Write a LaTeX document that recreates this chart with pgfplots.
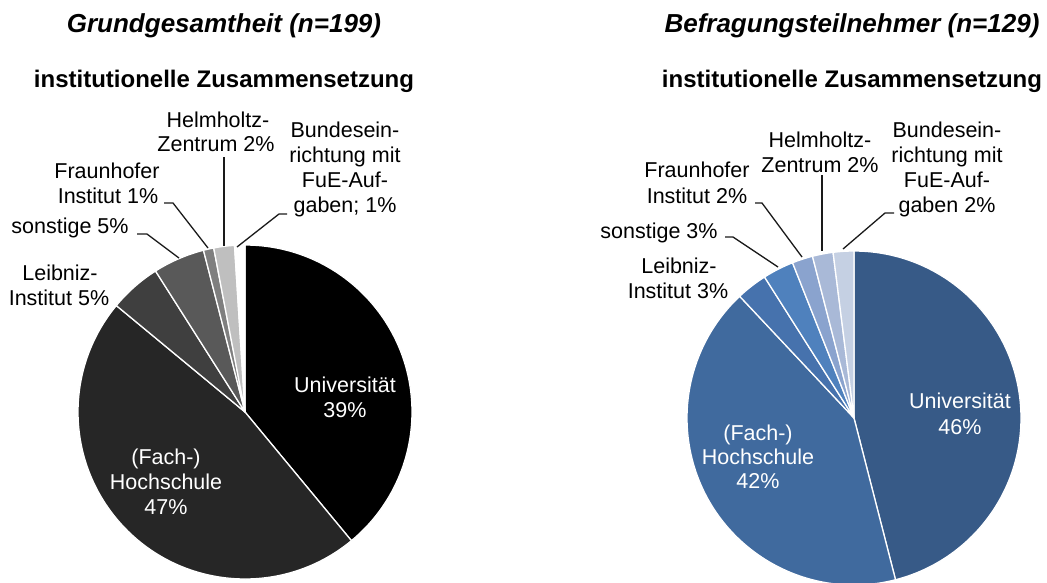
\documentclass[border=0pt]{standalone}
\usepackage{fontspec}
\setmainfont{Liberation Sans}
\usepackage{pgfplots}
\pgfplotsset{compat=1.18}
\definecolor{uniL}{HTML}{000000}
\definecolor{hsL}{HTML}{262626}
\definecolor{leiL}{HTML}{3F3F3F}
\definecolor{sonL}{HTML}{595959}
\definecolor{frL}{HTML}{7F7F7F}
\definecolor{heL}{HTML}{BFBFBF}
\definecolor{buL}{HTML}{FFFFFF}
\definecolor{uniR}{HTML}{375A87}
\definecolor{hsR}{HTML}{406A9E}
\definecolor{leiR}{HTML}{4672AD}
\definecolor{sonR}{HTML}{4F81BD}
\definecolor{frR}{HTML}{8AA3CE}
\definecolor{heR}{HTML}{A9B9D7}
\definecolor{buR}{HTML}{C5D0E3}
\definecolor{leader}{HTML}{1A1A1A}
\newcommand\lf{\fontsize{21.5bp}{25bp}\selectfont}
\newcommand\tl[4][black]{\node[anchor=base,inner sep=0pt,font=\lf,text=#1] at (axis cs:#2,#3) {#4};}
% pie: center x, center y, radius, list of percent/colour
\newcommand\pieslices[4]{%
  \xdef\curang{90}%
  \foreach \p/\c in {#4}{%
    \pgfmathsetmacro\b{\curang-3.6*\p}%
    \edef\temp{\noexpand\fill[\c,draw=white,line width=1.3bp,line join=round] (axis cs:#1,#2) -- ++(\curang:#3bp) arc[start angle=\curang,end angle=\b,radius=#3bp] -- cycle;}%
    \temp
    \xdef\curang{\b}%
  }%
}
\begin{document}
\begin{tikzpicture}
\useasboundingbox (0,0) rectangle (1047bp,583bp);
\begin{axis}[at={(0,0)},anchor=south west,width=1047bp,height=583bp,scale only axis,
  xmin=0,xmax=1047,ymin=0,ymax=583,y dir=reverse,hide axis,clip=false]
% Grundgesamtheit (n=199): Universitaet, (Fach-)Hochschule, Leibniz, sonstige, Fraunhofer, Helmholtz, Bund
\pieslices{245}{412}{167}{39/uniL,47/hsL,5/leiL,5/sonL,1/frL,2/heL,1/buL}
% Befragungsteilnehmer (n=129)
\pieslices{854}{418}{167}{46/uniR,42/hsR,3/leiR,3/sonR,2/frR,2/heR,2/buR}

% titles
\node[anchor=base,inner sep=0pt,font=\fontsize{26bp}{30bp}\selectfont\bfseries\itshape] at (axis cs:224,33) {Grundgesamtheit (n=199)};
\node[anchor=base,inner sep=0pt,font=\fontsize{24bp}{28bp}\selectfont\bfseries] at (axis cs:224,87) {institutionelle Zusammensetzung};
\node[anchor=base,inner sep=0pt,font=\fontsize{26bp}{30bp}\selectfont\bfseries\itshape] at (axis cs:852,33) {Befragungsteilnehmer (n=129)};
\node[anchor=base,inner sep=0pt,font=\fontsize{24bp}{28bp}\selectfont\bfseries] at (axis cs:852,87) {institutionelle Zusammensetzung};

% leader lines left
\draw[leader,line width=1.3bp] (axis cs:224,157) -- (axis cs:224,246);
\draw[leader,line width=1.3bp] (axis cs:287,214) -- (axis cs:279,214) -- (axis cs:237,247);
\draw[leader,line width=1.3bp] (axis cs:164,203) -- (axis cs:173,203) -- (axis cs:208,248);
\draw[leader,line width=1.3bp] (axis cs:137,234) -- (axis cs:147,234) -- (axis cs:179,258);
% leader lines right
\draw[leader,line width=1.3bp] (axis cs:822,175) -- (axis cs:822,251);
\draw[leader,line width=1.3bp] (axis cs:894,213) -- (axis cs:885,213) -- (axis cs:843,249);
\draw[leader,line width=1.3bp] (axis cs:755,203) -- (axis cs:762,203) -- (axis cs:802,257);
\draw[leader,line width=1.3bp] (axis cs:725,237) -- (axis cs:733,237) -- (axis cs:778,267);

% labels left
\tl{218}{127}{Helmholtz-}
\tl{216}{151}{Zentrum 2\%}
\tl{345}{137}{Bundesein-}
\tl{345}{162}{richtung mit}
\tl{345}{187}{FuE-Auf-}
\tl{345}{212}{gaben; 1\%}
\tl{107}{178}{Fraunhofer}
\tl{108}{203}{Institut 1\%}
\tl{70}{233}{sonstige 5\%}
\tl{60}{280}{Leibniz-}
\tl{59}{305}{Institut 5\%}
\tl[white]{345}{392}{Universität}
\tl[white]{345}{417}{39\%}
\tl[white]{166}{464}{(Fach-)}
\tl[white]{166}{489}{Hochschule}
\tl[white]{166}{514}{47\%}
% labels right
\tl{820}{147}{Helmholtz-}
\tl{820}{172}{Zentrum 2\%}
\tl{947}{137}{Bundesein-}
\tl{947}{162}{richtung mit}
\tl{947}{187}{FuE-Auf-}
\tl{947}{212}{gaben 2\%}
\tl{697}{177}{Fraunhofer}
\tl{697}{203}{Institut 2\%}
\tl{659}{238}{sonstige 3\%}
\tl{679}{273}{Leibniz-}
\tl{678}{298}{Institut 3\%}
\tl[white]{960}{408}{Universität}
\tl[white]{960}{434}{46\%}
\tl[white]{758}{440}{(Fach-)}
\tl[white]{758}{464}{Hochschule}
\tl[white]{758}{488}{42\%}
\end{axis}
\end{tikzpicture}
\end{document}
